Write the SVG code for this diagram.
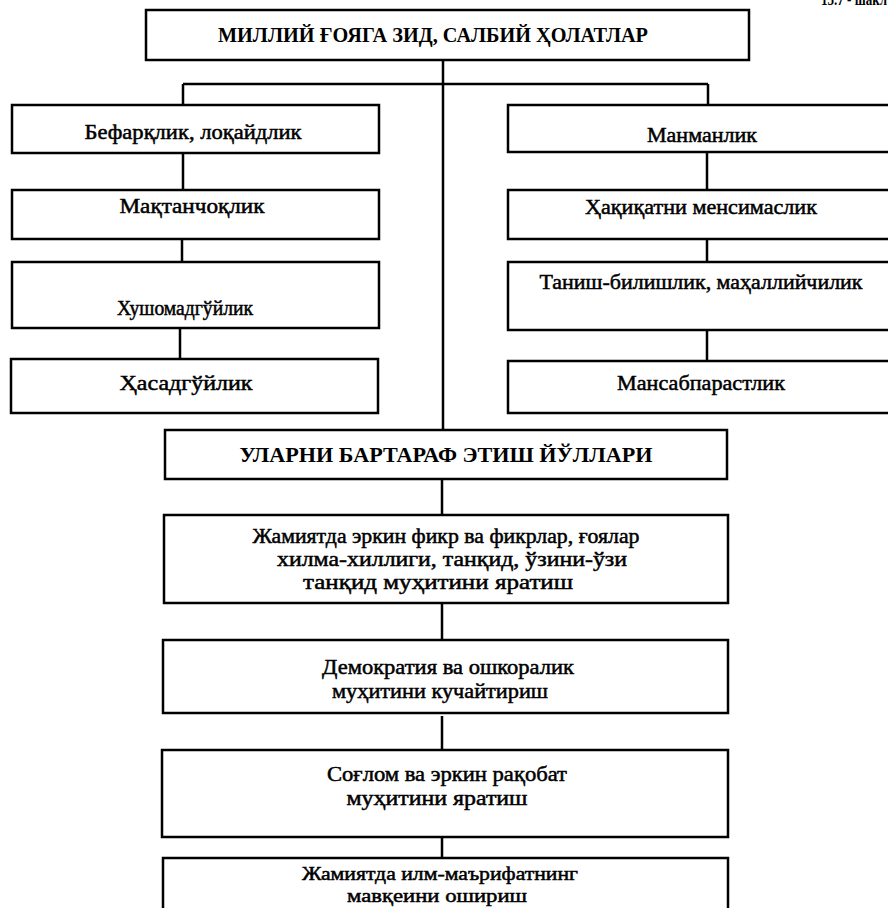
<svg xmlns="http://www.w3.org/2000/svg" width="888" height="908" viewBox="0 0 888 908">
<style>
.box{fill:#fff;stroke:#000;stroke-width:2.5}
.con{fill:none;stroke:#000;stroke-width:2.5}
text{font-family:"Liberation Serif","DejaVu Serif",serif;fill:#000;text-anchor:middle}
.h{font-size:21px;font-weight:bold}
.t{font-size:21px;stroke:#000;stroke-width:0.5}
.s{font-size:19px}
.pg{font-size:16px;font-weight:bold;text-anchor:start}
</style>
<rect width="888" height="908" fill="#fff"/>
<text class="pg" x="821" y="5" textLength="66" lengthAdjust="spacingAndGlyphs">15.7 - шакл</text>
<g id="connectors">
<path class="con" d="M443 60V450M183 84H708M183 84V105M708 84V104"/>
<path class="con" d="M183 153V190M182 239V262M180 328V370"/>
<path class="con" d="M707 148V190M707 239V262M707 330V372"/>
<path class="con" d="M442 474V515M442 603V645M442 716V755M442 837V876"/>
</g>
<g id="n-title"><rect class="box" x="146" y="10" width="603" height="50"/><text class="h" x="433" y="42" textLength="430" lengthAdjust="spacingAndGlyphs">МИЛЛИЙ ҒОЯГА ЗИД, САЛБИЙ ҲОЛАТЛАР</text></g>
<g id="n-l1"><rect class="box" x="12" y="105" width="367" height="48"/><text class="t" x="193" y="139" textLength="217" lengthAdjust="spacingAndGlyphs">Бефарқлик, лоқайдлик</text></g>
<g id="n-l2"><rect class="box" x="12" y="190" width="367" height="49"/><text class="t" x="192" y="213" textLength="145" lengthAdjust="spacingAndGlyphs">Мақтанчоқлик</text></g>
<g id="n-l3"><rect class="box" x="12" y="262" width="367" height="66"/><text class="t" x="185" y="315" textLength="136" lengthAdjust="spacingAndGlyphs">Хушомадгўйлик</text></g>
<g id="n-l4"><rect class="box" x="11" y="359" width="367" height="54"/><text class="t" x="186" y="390" textLength="133" lengthAdjust="spacingAndGlyphs">Ҳасадгўйлик</text></g>
<g id="n-r1"><rect class="box" x="508" y="105" width="400" height="47"/><text class="t" x="702" y="142" textLength="110" lengthAdjust="spacingAndGlyphs">Манманлик</text></g>
<g id="n-r2"><rect class="box" x="508" y="190" width="400" height="49"/><text class="t" x="701" y="214" textLength="232" lengthAdjust="spacingAndGlyphs">Ҳақиқатни менсимаслик</text></g>
<g id="n-r3"><rect class="box" x="508" y="262" width="400" height="68"/><text class="t" x="701" y="289" textLength="323" lengthAdjust="spacingAndGlyphs">Таниш-билишлик, маҳаллийчилик</text></g>
<g id="n-r4"><rect class="box" x="508" y="361" width="400" height="52"/><text class="t" x="701" y="390" textLength="168" lengthAdjust="spacingAndGlyphs">Мансабпарастлик</text></g>
<g id="n-ways"><rect class="box" x="165" y="430" width="562" height="49"/><text class="h" x="446" y="462" textLength="413" lengthAdjust="spacingAndGlyphs">УЛАРНИ БАРТАРАФ ЭТИШ ЙЎЛЛАРИ</text></g>
<g id="n-b1"><rect class="box" x="164" y="515" width="564" height="88"/>
<text class="t" x="446" y="543" textLength="387" lengthAdjust="spacingAndGlyphs">Жамиятда эркин фикр ва фикрлар, ғоялар</text>
<text class="t" x="452" y="566" textLength="350" lengthAdjust="spacingAndGlyphs">хилма-хиллиги, танқид, ўзини-ўзи</text>
<text class="t" x="438" y="589" textLength="270" lengthAdjust="spacingAndGlyphs">танқид муҳитини яратиш</text></g>
<g id="n-b2"><rect class="box" x="163" y="640" width="565" height="73"/>
<text class="t" x="448" y="674" textLength="252" lengthAdjust="spacingAndGlyphs">Демократия ва ошкоралик</text>
<text class="t" x="440" y="698" textLength="216" lengthAdjust="spacingAndGlyphs">муҳитини кучайтириш</text></g>
<g id="n-b3"><rect class="box" x="162" y="750" width="566" height="87"/>
<text class="t" x="447" y="781" textLength="240" lengthAdjust="spacingAndGlyphs">Соғлом ва эркин рақобат</text>
<text class="t" x="437" y="805" textLength="181" lengthAdjust="spacingAndGlyphs">муҳитини яратиш</text></g>
<g id="n-b4"><rect class="box" x="163" y="858" width="565" height="80"/>
<text class="t s" x="440" y="880" textLength="276" lengthAdjust="spacingAndGlyphs">Жамиятда илм-маърифатнинг</text>
<text class="t s" x="437" y="902" textLength="180" lengthAdjust="spacingAndGlyphs">мавқеини ошириш</text></g>
</svg>
